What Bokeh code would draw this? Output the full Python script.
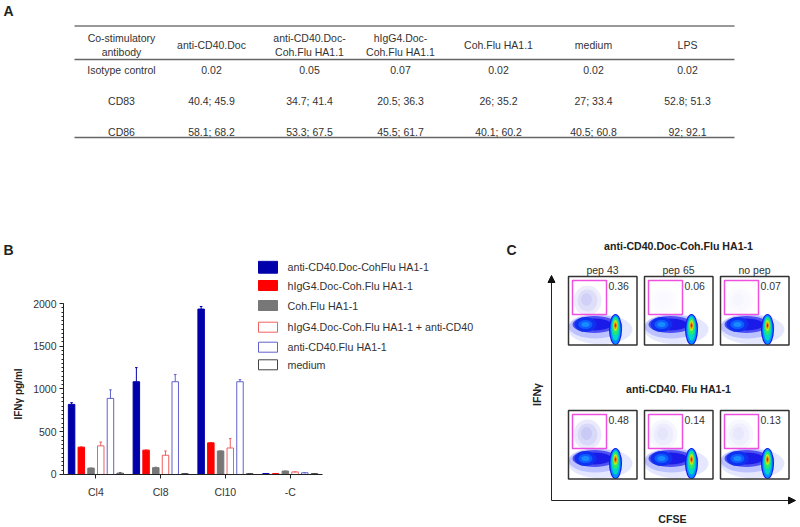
from bokeh.plotting import figure
from bokeh.layouts import column, row
from bokeh.models import Range1d, FixedTicker, Arrow, NormalHead
from bokeh.core.properties import value
from bokeh.embed import file_html
from bokeh.resources import INLINE

# ---- Panel A: table ----
table_header = [["Co-stimulatory", "antibody"], ["anti-CD40.Doc"], ["anti-CD40.Doc-", "Coh.Flu HA1.1"],
                ["hIgG4.Doc-", "Coh.Flu HA1.1"], ["Coh.Flu HA1.1"], ["medium"], ["LPS"]]
row_isotype = ["Isotype control", "0.02", "0.05", "0.07", "0.02", "0.02", "0.02"]
row_cd83 = ["CD83", "40.4; 45.9", "34.7; 41.4", "20.5; 36.3", "26; 35.2", "27; 33.4", "52.8; 51.3"]
row_cd86 = ["CD86", "58.1; 68.2", "53.3; 67.5", "45.5; 61.7", "40.1; 60.2", "40.5; 60.8", "92; 92.1"]

# ---- Panel B: bars ----
groups = ["Cl4", "Cl8", "Cl10", "-C"]
series_names = ["anti-CD40.Doc-CohFlu HA1-1", "hIgG4.Doc-Coh.Flu HA1-1", "Coh.Flu HA1-1",
                "hIgG4.Doc-Coh.Flu HA1-1 + anti-CD40", "anti-CD40.Flu HA1-1", "medium"]
anti_cd40_doc_flu = [820, 1085, 1935, 10]
higg4_doc_flu = [320, 285, 370, 10]
coh_flu = [75, 80, 275, 40]
higg4_plus_cd40 = [335, 225, 310, 30]
anti_cd40_flu = [890, 1085, 1085, 20]
medium = [15, 10, 10, 10]
err_doc_flu = [20, 165, 30, 0]
err_higg4 = [0, 0, 0, 0]
err_coh = [0, 5, 0, 0]
err_plus = [45, 50, 110, 0]
err_flu = [100, 85, 25, 0]
err_medium = [5, 0, 0, 0]

# ---- Panel C: flow plots ----
row_titles = ["anti-CD40.Doc-Coh.Flu HA1-1", "anti-CD40. Flu HA1-1"]
pep_labels = ["pep 43", "pep 65", "no pep"]
gate_pct_top = ["0.36", "0.06", "0.07"]
gate_pct_bottom = ["0.48", "0.14", "0.13"]
cloud_top = [0.16, 0.02, 0.025]
cloud_bottom = [0.18, 0.08, 0.07]

FONT = "Liberation Sans"
TXT = "#333333"


def bare(w, h, x0, x1, y0, y1):
    p = figure(width=w, height=h, x_range=Range1d(x0, x1), y_range=Range1d(y1, y0),
               toolbar_location=None, output_backend="svg")
    p.axis.visible = False
    p.grid.visible = False
    p.outline_line_color = None
    p.min_border = 0
    return p


def txt(p, x, y, s, size="10.5px", bold=False, align="center", color=TXT, angle=0, **kw):
    p.text([x], [y], text=[s], text_font=value(FONT), text_font_size=value(size),
           text_font_style="bold" if bold else "normal", text_align=align,
           text_baseline="middle", text_color=color, angle=angle, **kw)


# ======== A ========
pa = bare(800, 260, 0, 800, 0, 260)
txt(pa, 3, 10, "A", "14px", True, "left", "#222222")
txt(pa, 3, 249, "B", "14px", True, "left", "#222222")
txt(pa, 506, 249, "C", "14px", True, "left", "#222222")
txt(pa, 678, 245, row_titles[0], "10.6px", True, color="#222222")
pa.segment([74, 74, 74], [25.5, 59, 137], [734, 734, 734], [25.5, 59, 137],
           line_color=["#333333", "#666666", "#666666"], line_width=[1, 1.5, 1.5])
col_x = [121, 211, 309, 400, 498, 593, 687]
for cx, head in zip(col_x, table_header):
    ys = [37, 51] if len(head) == 2 else [44]
    for y, s in zip(ys, head):
        txt(pa, cx, y, s)
for y, r in zip([69, 100, 131], [row_isotype, row_cd83, row_cd86]):
    for cx, s in zip(col_x, r):
        txt(pa, cx, y, s)

# ======== B ========
pb = figure(width=495, height=267, x_range=Range1d(-0.5, 6.17), y_range=Range1d(-620, 2503),
            toolbar_location=None, output_backend="svg",
            min_border_left=63, min_border_right=0, min_border_top=0, min_border_bottom=0)
pb.extra_x_ranges = {"px": Range1d(63, 495)}
pb.extra_y_ranges = {"px": Range1d(527, 260)}
pb.grid.visible = False
pb.outline_line_color = None
vals = [anti_cd40_doc_flu, higg4_doc_flu, coh_flu, higg4_plus_cd40, anti_cd40_flu, medium]
errs = [err_doc_flu, err_higg4, err_coh, err_plus, err_flu, err_medium]
fills = ["#0000AA", "#FF0000", "#777777", "white", "white", "white"]
edges = ["#0000AA", "#FF0000", "#777777", "#F06060", "#6060D0", "#444444"]
for i in range(6):
    xs = [g + (i - 2.5) * 0.15 for g in range(4)]
    pb.vbar(x=xs, top=vals[i], width=0.1, fill_color=fills[i], line_color=edges[i], line_width=1)
    tops = [v + e for v, e in zip(vals[i], errs[i])]
    pb.segment(xs, vals[i], xs, tops, line_color=edges[i], line_width=1)
    pb.segment([x - 0.02 for x in xs], tops, [x + 0.02 for x in xs], tops, line_color=edges[i], line_width=1)

pb.yaxis.ticker = FixedTicker(ticks=[0, 500, 1000, 1500, 2000], minor_ticks=list(range(0, 2001, 50)))
pb.xaxis.ticker = FixedTicker(ticks=[0, 1, 2, 3])
pb.xaxis.major_label_overrides = {k: g for k, g in enumerate(groups)}
pb.xaxis.fixed_location = 0
pb.xaxis.bounds = (-0.5, 3.5)
pb.yaxis.bounds = (0, 2000)
pb.axis.major_label_text_font = FONT
pb.axis.major_label_text_font_size = "10.5px"
pb.axis.major_label_text_color = TXT
pb.axis.axis_line_color = "#222222"
pb.axis.major_tick_line_color = "#222222"
pb.axis.minor_tick_line_color = "#222222"
pb.axis.major_tick_in = 0
pb.axis.major_tick_out = 4
pb.axis.minor_tick_in = 0
pb.xaxis.minor_tick_out = 0
pb.yaxis.minor_tick_out = 2
pb.xaxis.major_label_standoff = 8
pb.yaxis.major_label_standoff = 3
pb.yaxis.axis_label = "IFN\u03b3 pg/ml"
pb.yaxis.axis_label_text_font = FONT
pb.yaxis.axis_label_text_font_size = "10px"
pb.yaxis.axis_label_text_font_style = "bold"
pb.yaxis.axis_label_text_color = "#222222"
pb.yaxis.axis_label_standoff = 6

# legend, in page pixels
leg_y = [266.7, 285, 305, 326.7, 346.7, 364.3]
for i, (name, y) in enumerate(zip(series_names, leg_y)):
    h = 6 if i == 0 else 5
    pb.quad(left=[258], right=[277], top=[y - h], bottom=[y + h], fill_color=fills[i], line_color=edges[i],
            line_width=1, x_range_name="px", y_range_name="px")
    txt(pb, 287, y, name, "10.7px", align="left", x_range_name="px", y_range_name="px")

# ======== C ========
pc = bare(305, 267, 495, 800, 260, 527)
for tip, base in [((551, 275), (551, 500)), ((795, 500), (551, 500))]:
    pc.add_layout(Arrow(x_start=base[0], y_start=base[1], x_end=tip[0], y_end=tip[1], line_color="#222222",
                        line_width=1, end=NormalHead(size=7, fill_color="#111111", line_color="#111111")))
txt(pc, 672, 518, "CFSE", "10.6px", True, color="#222222")
txt(pc, 536.5, 394, "IFN\u03b3", "10.6px", True, color="#222222", angle=1.5708)
txt(pc, 678, 388, row_titles[1], "10.6px", True, color="#222222")

box_x = [568, 644, 720]
box_y = [276, 410]
blob_cx = [32, 27, 26, 26, 17, 17, 17, 47, 47, 47, 47, 47, 47, 47]
blob_cy = [53, 50, 48, 48, 48, 48, 48, 53, 53, 52, 50, 49, 49, 49]
blob_w = [64, 54, 44, 34, 22, 14, 8, 13, 10.5, 8, 6, 4, 2.6, 1.6]
blob_h = [30, 24, 17, 12, 15, 9, 5, 31, 29, 24, 17, 11, 7, 4]
blob_col = ["#DADDFF", "#A0A8FF", "#3C3CF0", "#1818E8", "#1030F0", "#1060FF", "#1890FF",
            "#1414F0", "#0090FF", "#00D8C0", "#30E860", "#C0E820", "#FF9000", "#E01818"]
blob_alpha = [0.7, 0.6, 0.85, 0.95, 1, 0.95, 0.9, 1, 1, 1, 1, 1, 1, 1]

for by, pcts, clouds in zip(box_y, [gate_pct_top, gate_pct_bottom], [cloud_top, cloud_bottom]):
    for bx, pct, cl in zip(box_x, pcts, clouds):
        pc.ellipse([bx + c for c in blob_cx], [by + c for c in blob_cy], width=blob_w, height=blob_h,
                   fill_color=blob_col, fill_alpha=blob_alpha, line_color=None)
        pc.ellipse([bx + 19, bx + 19, bx + 18], [by + 24, by + 24, by + 23], width=[28, 20, 11], height=[30, 22, 13],
                   fill_color="#8C8CEE", fill_alpha=cl, line_color=None)
        pc.quad(left=[bx + 4], right=[bx + 38], top=[by + 4], bottom=[by + 38], fill_color=None,
                line_color="#F050E0", line_width=1.5)
        pc.quad(left=[bx], right=[bx + 68.5], top=[by], bottom=[by + 68.5], fill_color=None,
                line_color="#333333", line_width=1.5)
        txt(pc, bx + 40, by + 9, pct, "10.5px", align="left")
for bx, s in zip(box_x, pep_labels):
    txt(pc, bx + 34, 269, s, "10.5px")

page = column(pa, row(pb, pc, spacing=0), spacing=0)
open("out.html", "w").write(file_html(page, INLINE))
